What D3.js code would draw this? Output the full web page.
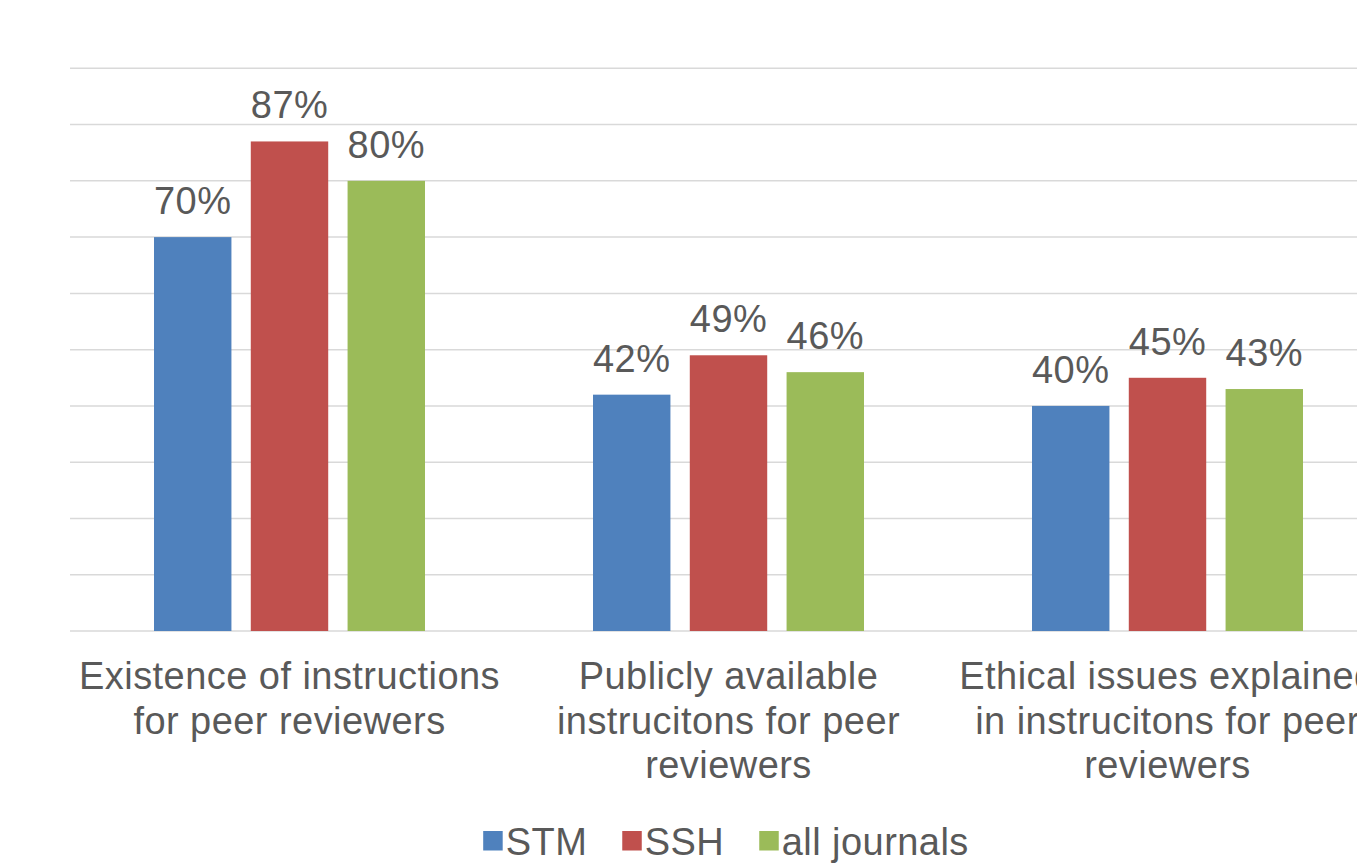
<!DOCTYPE html>
<html>
<head>
<meta charset="utf-8">
<script src="https://cdn.jsdelivr.net/npm/d3@7"></script>
<style>
  html, body { margin: 0; padding: 0; background: #fff; overflow: hidden; }
  svg { display: block; }
  text { font-family: "Liberation Sans", Arial, sans-serif; fill: #595959; letter-spacing: 0.45px; }
</style>
</head>
<body>
<svg id="chart" width="1357" height="866"></svg>
<script>
// ---- data ----
const categories = [
  "Existence of instructions for peer reviewers",
  "Publicly available instrucitons for peer reviewers",
  "Ethical issues explained in instrucitons for peer reviewers"
];
const categoryLines = [
  ["Existence of instructions", "for peer reviewers"],
  ["Publicly available", "instrucitons for peer", "reviewers"],
  ["Ethical issues explained", "in instrucitons for peer", "reviewers"]
];
const seriesNames = ["STM", "SSH", "all journals"];
const stmValues = [0.70, 0.42, 0.40];
const sshValues = [0.87, 0.49, 0.45];
const allValues = [0.80, 0.46, 0.43];
const seriesColors = ["#4f81bd", "#c0504d", "#9bbb59"];
const gridTicks = [0, 0.1, 0.2, 0.3, 0.4, 0.5, 0.6, 0.7, 0.8, 0.9, 1.0];

const seriesValues = [stmValues, sshValues, allValues];
const rows = categories.map((c, i) => ({
  category: c,
  lines: categoryLines[i],
  values: seriesNames.map((s, j) => ({ series: s, value: seriesValues[j][i], color: seriesColors[j] }))
}));

// ---- layout ----
const svg = d3.select("#chart");
const plotLeft = 70, plotRight = 1387, plotTop = 68.3, plotBottom = 631;
const fontSize = 38;

const x0 = d3.scaleBand().domain(categories).range([plotLeft, plotRight]).padding(0);
const x1 = d3.scaleBand().domain(seriesNames)
  .range([84, x0.bandwidth() - 84]).paddingInner(0.2).paddingOuter(0);
const y = d3.scaleLinear().domain([0, 1]).range([plotBottom, plotTop]);

// gridlines
svg.append("g").selectAll("line").data(gridTicks).join("line")
  .attr("x1", plotLeft).attr("x2", plotRight)
  .attr("y1", d => y(d)).attr("y2", d => y(d))
  .attr("stroke", "#d9d9d9").attr("stroke-width", 1.5);

// bars
const groups = svg.append("g").selectAll("g").data(rows).join("g")
  .attr("transform", d => `translate(${x0(d.category)},0)`);

groups.selectAll("rect").data(d => d.values).join("rect")
  .attr("x", d => x1(d.series))
  .attr("width", x1.bandwidth())
  .attr("y", d => y(d.value))
  .attr("height", d => y(0) - y(d.value))
  .attr("fill", d => d.color);

// value labels
groups.selectAll("text.val").data(d => d.values).join("text")
  .attr("class", "val")
  .attr("x", d => x1(d.series) + x1.bandwidth() / 2)
  .attr("y", d => y(d.value) - 23)
  .attr("text-anchor", "middle")
  .style("font-size", fontSize + "px")
  .text(d => d3.format(".0%")(d.value));

// category labels
const catG = svg.append("g").selectAll("text").data(rows).join("text")
  .attr("x", d => x0(d.category) + x0.bandwidth() / 2)
  .attr("y", plotBottom + 58)
  .attr("text-anchor", "middle")
  .style("font-size", fontSize + "px");
catG.selectAll("tspan").data(d => d.lines.map(l => ({ l, x: x0(d.category) + x0.bandwidth() / 2 })))
  .join("tspan")
  .attr("x", d => d.x)
  .attr("dy", (d, i) => i === 0 ? 0 : 44.5)
  .text(d => d.l);

// legend
const legend = svg.append("g");
const sq = 19.5, gapText = 3, gapItem = 35, legendBaseline = 855;
let cursor = 0;
const items = seriesNames.map((s, i) => {
  const t = legend.append("text").style("font-size", fontSize + "px").text(s);
  const w = t.node().getComputedTextLength();
  const item = { s, i, t, w, x: cursor };
  cursor += sq + gapText + w + gapItem;
  return item;
});
const totalW = cursor - gapItem;
const legendStart = 726 - totalW / 2;
items.forEach(it => {
  legend.append("rect")
    .attr("x", legendStart + it.x).attr("y", 831)
    .attr("width", sq).attr("height", sq)
    .attr("fill", seriesColors[it.i]);
  it.t.attr("x", legendStart + it.x + sq + gapText).attr("y", legendBaseline);
});
</script>
</body>
</html>
